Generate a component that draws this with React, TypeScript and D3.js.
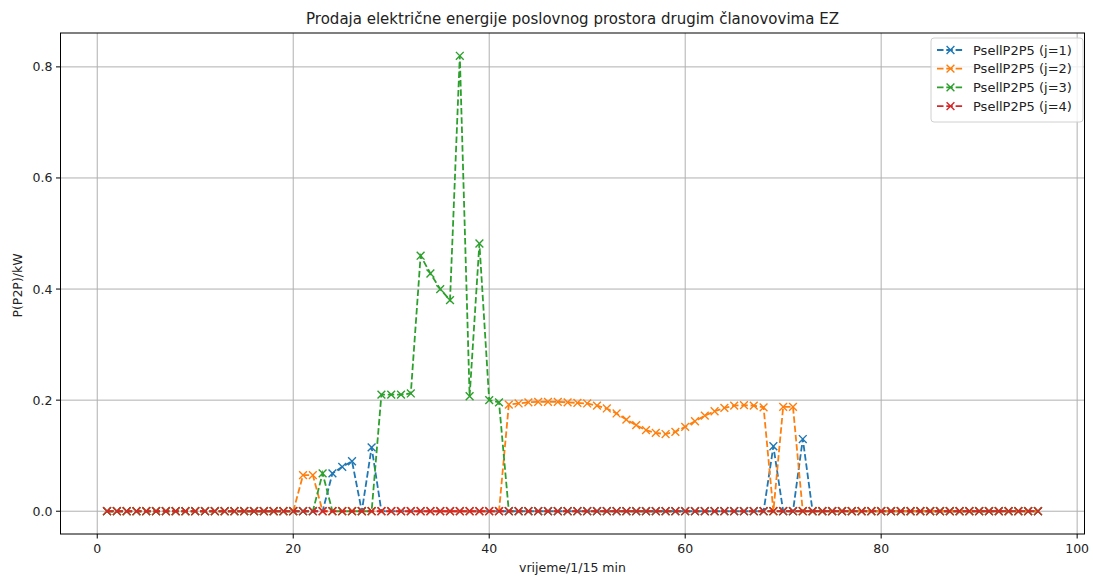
import React from "react";
import * as d3 from "d3";

const xs: number[] = [
  1, 2, 3, 4, 5, 6, 7, 8, 9, 10, 11, 12, 13, 14, 15, 16, 17, 18, 19, 20, 21, 22, 23, 24,
  25, 26, 27, 28, 29, 30, 31, 32, 33, 34, 35, 36, 37, 38, 39, 40, 41, 42, 43, 44, 45, 46, 47, 48,
  49, 50, 51, 52, 53, 54, 55, 56, 57, 58, 59, 60, 61, 62, 63, 64, 65, 66, 67, 68, 69, 70, 71, 72,
  73, 74, 75, 76, 77, 78, 79, 80, 81, 82, 83, 84, 85, 86, 87, 88, 89, 90, 91, 92, 93, 94, 95, 96,
];

// j=1
const s1: number[] = [
  0, 0, 0, 0, 0, 0, 0, 0, 0, 0, 0, 0, 0, 0, 0, 0, 0, 0, 0, 0, 0, 0, 0, 0.068,
  0.08, 0.09, 0, 0.115, 0, 0, 0, 0, 0, 0, 0, 0, 0, 0, 0, 0, 0, 0, 0, 0, 0, 0, 0, 0,
  0, 0, 0, 0, 0, 0, 0, 0, 0, 0, 0, 0, 0, 0, 0, 0, 0, 0, 0, 0, 0.117, 0, 0, 0.13,
  0, 0, 0, 0, 0, 0, 0, 0, 0, 0, 0, 0, 0, 0, 0, 0, 0, 0, 0, 0, 0, 0, 0, 0,
];

// j=2
const s2: number[] = [
  0, 0, 0, 0, 0, 0, 0, 0, 0, 0, 0, 0, 0, 0, 0, 0, 0, 0, 0, 0, 0.065, 0.065, 0, 0,
  0, 0, 0, 0, 0, 0, 0, 0, 0, 0, 0, 0, 0, 0, 0, 0, 0, 0.192, 0.194, 0.196, 0.197, 0.197, 0.197, 0.196,
  0.195, 0.194, 0.19, 0.185, 0.176, 0.165, 0.155, 0.146, 0.141, 0.139, 0.143, 0.152, 0.162, 0.172, 0.18, 0.186, 0.19, 0.191, 0.19, 0.187, 0, 0.188, 0.188, 0,
  0, 0, 0, 0, 0, 0, 0, 0, 0, 0, 0, 0, 0, 0, 0, 0, 0, 0, 0, 0, 0, 0, 0, 0,
];

// j=3
const s3: number[] = [
  0, 0, 0, 0, 0, 0, 0, 0, 0, 0, 0, 0, 0, 0, 0, 0, 0, 0, 0, 0, 0, 0, 0.068, 0,
  0, 0, 0, 0, 0.21, 0.21, 0.21, 0.212, 0.46, 0.428, 0.4, 0.38, 0.82, 0.207, 0.482, 0.2, 0.196, 0, 0, 0, 0, 0, 0, 0,
  0, 0, 0, 0, 0, 0, 0, 0, 0, 0, 0, 0, 0, 0, 0, 0, 0, 0, 0, 0, 0, 0, 0, 0,
  0, 0, 0, 0, 0, 0, 0, 0, 0, 0, 0, 0, 0, 0, 0, 0, 0, 0, 0, 0, 0, 0, 0, 0,
];

// j=4
const s4: number[] = [
  0, 0, 0, 0, 0, 0, 0, 0, 0, 0, 0, 0, 0, 0, 0, 0, 0, 0, 0, 0, 0, 0, 0, 0,
  0, 0, 0, 0, 0, 0, 0, 0, 0, 0, 0, 0, 0, 0, 0, 0, 0, 0, 0, 0, 0, 0, 0, 0,
  0, 0, 0, 0, 0, 0, 0, 0, 0, 0, 0, 0, 0, 0, 0, 0, 0, 0, 0, 0, 0, 0, 0, 0,
  0, 0, 0, 0, 0, 0, 0, 0, 0, 0, 0, 0, 0, 0, 0, 0, 0, 0, 0, 0, 0, 0, 0, 0,
];

const seriesNames: string[] = ["PsellP2P5 (j=1)", "PsellP2P5 (j=2)", "PsellP2P5 (j=3)", "PsellP2P5 (j=4)"];
const seriesColors: string[] = ["#1f77b4", "#ff7f0e", "#2ca02c", "#d62728"];
const xTicks: number[] = [0, 20, 40, 60, 80, 100];
const yTicks: number[] = [0.0, 0.2, 0.4, 0.6, 0.8];

const title = "Prodaja električne energije poslovnog prostora drugim članovovima EZ";
const xLabel = "vrijeme/1/15 min";
const yLabel = "P(P2P)/kW";

const W = 1093;
const H = 577;
const L = 60.5;
const R = 1084.5;
const T = 33;
const B = 534;
const FONT = "DejaVu Sans, sans-serif";

export default function App() {
  const allSeries = [s1, s2, s3, s4];
  const x = d3.scaleLinear().domain([-3.75, 100.75]).range([L, R]);
  const y = d3.scaleLinear().domain([-0.041, 0.861]).range([B, T]);
  const line = d3
    .line<number>()
    .x((_, i) => x(xs[i]))
    .y((d) => y(d));
  const ms = 3.9;
  const marker = (cx: number, cy: number, color: string, key: string) => (
    <path
      key={key}
      d={`M${cx - ms},${cy - ms}L${cx + ms},${cy + ms}M${cx - ms},${cy + ms}L${cx + ms},${cy - ms}`}
      stroke={color}
      strokeWidth={1.4}
      fill="none"
    />
  );

  const legX = 931;
  const legY = 38;
  const legW = 152;
  const legH = 84;
  const rowH = 18.7;

  return (
    <svg
      width={W}
      height={H}
      style={{ position: "absolute", left: 0, top: 0, background: "#fff" }}
      fontFamily={FONT}
    >
      <rect x={0} y={0} width={W} height={H} fill="#fff" />
      <defs>
        <clipPath id="plotclip">
          <rect x={L} y={T} width={R - L} height={B - T} />
        </clipPath>
      </defs>
      {/* grid */}
      {xTicks.map((t) => (
        <line key={"gx" + t} x1={x(t)} x2={x(t)} y1={T} y2={B} stroke="#b0b0b0" strokeWidth={1} />
      ))}
      {yTicks.map((t) => (
        <line key={"gy" + t} x1={L} x2={R} y1={y(t)} y2={y(t)} stroke="#b0b0b0" strokeWidth={1} />
      ))}
      {/* series */}
      <g clipPath="url(#plotclip)">
        {allSeries.map((s, si) => (
          <g key={"s" + si}>
            <path
              d={line(s) || ""}
              fill="none"
              stroke={seriesColors[si]}
              strokeWidth={1.8}
              strokeDasharray="6.5,2.8"
            />
            {s.map((v, i) => marker(x(xs[i]), y(v), seriesColors[si], `m${si}-${i}`))}
          </g>
        ))}
      </g>
      {/* spines */}
      <rect x={L} y={T} width={R - L} height={B - T} fill="none" stroke="#000" strokeWidth={1} />
      {/* x ticks */}
      {xTicks.map((t) => (
        <g key={"tx" + t}>
          <line x1={x(t)} x2={x(t)} y1={B} y2={B + 4.5} stroke="#000" strokeWidth={1} />
          <text x={x(t)} y={B + 19} textAnchor="middle" fontSize={12.5} fill="#222">
            {t}
          </text>
        </g>
      ))}
      {yTicks.map((t) => (
        <g key={"ty" + t}>
          <line x1={L - 4.5} x2={L} y1={y(t)} y2={y(t)} stroke="#000" strokeWidth={1} />
          <text x={L - 8} y={y(t) + 4.5} textAnchor="end" fontSize={12.5} fill="#222">
            {t.toFixed(1)}
          </text>
        </g>
      ))}
      {/* labels */}
      <text x={(L + R) / 2} y={24} textAnchor="middle" fontSize={15} fill="#222">
        {title}
      </text>
      <text x={(L + R) / 2} y={572} textAnchor="middle" fontSize={12.5} fill="#222">
        {xLabel}
      </text>
      <text
        transform={`translate(22,${(T + B) / 2 + 2}) rotate(-90)`}
        textAnchor="middle"
        fontSize={12.5}
        fill="#222"
      >
        {yLabel}
      </text>
      {/* legend */}
      <rect
        x={legX}
        y={legY}
        width={legW}
        height={legH}
        rx={3}
        fill="#fff"
        fillOpacity={0.8}
        stroke="#d0d0d0"
        strokeWidth={1}
      />
      {seriesNames.map((n, i) => {
        const cy = legY + 12 + i * rowH;
        return (
          <g key={"leg" + i}>
            <line
              x1={legX + 6}
              x2={legX + 33}
              y1={cy}
              y2={cy}
              stroke={seriesColors[i]}
              strokeWidth={1.8}
              strokeDasharray="6.5,2.8"
            />
            {marker(legX + 19.5, cy, seriesColors[i], "lm" + i)}
            <text x={legX + 42} y={cy + 4.5} fontSize={13} fill="#222">
              {n}
            </text>
          </g>
        );
      })}
    </svg>
  );
}
